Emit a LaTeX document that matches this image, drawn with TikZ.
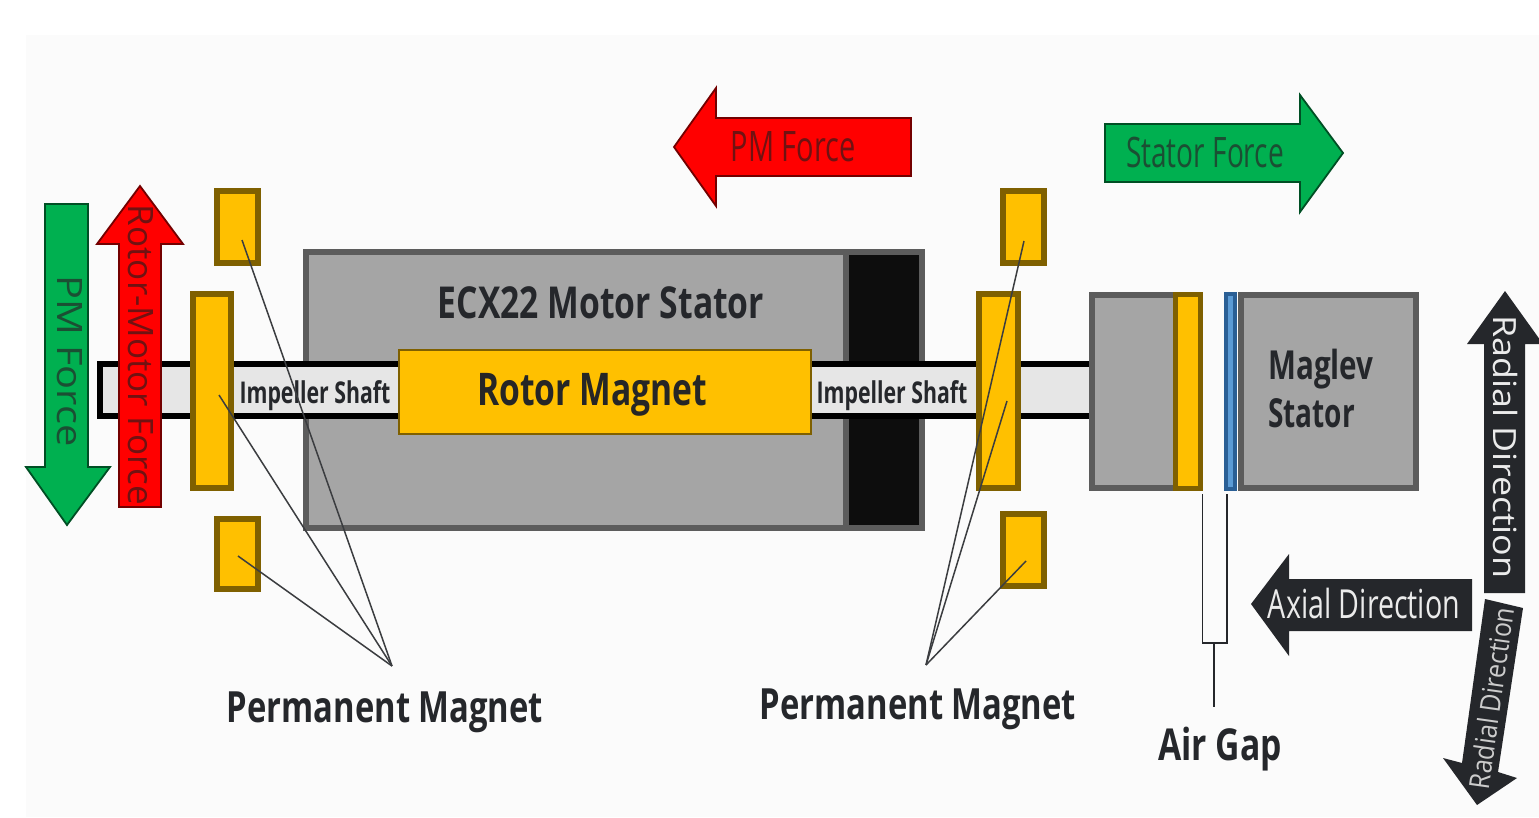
\documentclass[tikz,border=0pt]{standalone}
\usepackage{fontspec}
\setmainfont{Open Sans}
\usepackage{graphicx}
\definecolor{bgc}{HTML}{FBFBFB}
\definecolor{gry}{HTML}{A5A5A5}
\definecolor{gryd}{HTML}{5C5C5C}
\definecolor{ylw}{HTML}{FFC000}
\definecolor{ylwd}{HTML}{7F6000}
\definecolor{shaftc}{HTML}{E6E6E6}
\definecolor{grn}{HTML}{00B050}
\definecolor{inkc}{HTML}{25272B}
\definecolor{blu}{HTML}{5B9BD5}
\definecolor{blud}{HTML}{2A5F95}
\definecolor{redtxt}{HTML}{701212}
\definecolor{grntxt}{HTML}{1B4F33}
\newcommand{\nar}[3]{\scalebox{#1}[1]{\fontsize{#2}{#2}\selectfont #3}}
\tikzset{
  x=1pt,y=-1pt,
  greybox/.style={draw=gryd,fill=gry,line width=6pt,inner sep=0pt,outer sep=0pt},
  mag/.style={draw=ylwd,fill=ylw,line width=6pt,inner sep=0pt,outer sep=0pt},
  shaftbox/.style={draw=black,fill=shaftc,line width=6pt,inner sep=0pt,outer sep=0pt},
  arrowk/.style={draw=#1!45!black,line width=1.8pt,line join=miter},
  lead/.style={draw=inkc!90!white,line width=1.5pt},
  gap/.style={draw=inkc,line width=1.6pt},
  lab/.style={text=inkc,inner sep=0pt,font=\bfseries},
  plain/.style={text=#1,inner sep=0pt},
}
\begin{document}
\begin{tikzpicture}
\useasboundingbox (0,0) rectangle (1539,817);
\fill[white] (0,0) rectangle (1539,817);
\fill[bgc] (26,35) rectangle (1539,817);

% motor stator
\node (stator) [greybox,minimum width=616pt,minimum height=276pt] at (614,390) {};
\node (rear) [draw=gryd,fill=black!95,line width=6pt,inner sep=0pt,minimum width=76pt,minimum height=276pt] at (884,390) {};
% shaft
\node (shaft) [shaftbox,minimum width=992pt,minimum height=52pt] at (596,390) {};
% maglev blocks
\node (mgL) [greybox,minimum width=106pt,minimum height=193pt] at (1145,391) {};
\node (mgLy) [mag,line width=5pt,minimum width=25pt,minimum height=194pt] at (1188,391) {};
\node (mgR) [greybox,minimum width=175pt,minimum height=193pt] at (1328,391) {};
\node (blade) [draw=blud,fill=blu,line width=4pt,inner sep=0pt,minimum width=9pt,minimum height=195pt] at (1230.5,391) {};
% rotor
\node (rotor) [draw=ylwd,fill=ylw,line width=1.5pt,inner sep=0pt,minimum width=412pt,minimum height=84pt] at (605,392) {};
% magnets
\node (m1) [mag,minimum width=41pt,minimum height=72pt] at (237,227) {};
\node (m2) [mag,minimum width=38pt,minimum height=194pt] at (212,391) {};
\node (m3) [mag,minimum width=41pt,minimum height=70pt] at (237,554) {};
\node (m4) [mag,minimum width=41pt,minimum height=72pt] at (1023.5,227) {};
\node (m5) [mag,minimum width=39pt,minimum height=194pt] at (998.5,391) {};
\node (m6) [mag,minimum width=41pt,minimum height=72pt] at (1023.5,550) {};

% force arrows
\draw[arrowk=grn,fill=grn] (45,204) -- (88,204) -- (88,467) -- (110,467) -- (67,525) -- (26,467) -- (45,467) -- cycle;
\draw[arrowk=red,fill=red] (119,507) -- (119,244) -- (97,244) -- (140,186) -- (183,244) -- (161,244) -- (161,507) -- cycle;
\draw[arrowk=red,fill=red] (911,118) -- (716,118) -- (716,88) -- (674,147) -- (716,206) -- (716,176) -- (911,176) -- cycle;
\draw[arrowk=grn,fill=grn] (1105,124) -- (1300,124) -- (1300,95) -- (1343,153) -- (1300,212) -- (1300,182) -- (1105,182) -- cycle;
% direction arrows
\fill[inkc] (1484,593) -- (1484,344) -- (1467,344) -- (1505,291) -- (1543,344) -- (1525,344) -- (1525,593) -- cycle;
\fill[inkc] (1472,579) -- (1289,579) -- (1289,554) -- (1251,604) -- (1289,656) -- (1289,631) -- (1472,631) -- cycle;
\fill[inkc] (1485,599) -- (1523,608) -- (1498,772) -- (1517,778) -- (1477,805) -- (1443,758) -- (1462,763) -- cycle;

% labels
\node (tstator) [lab] at (601,303) {\nar{.765}{44}{ECX22 Motor Stator}};
\node (trotor) [lab,text=black!85] at (592,395) {\nar{.747}{45}{Rotor Magnet}};
\node (timp1) [lab] at (315,396) {\nar{.71}{30}{Impeller Shaft}};
\node (timp2) [lab] at (892,396) {\nar{.71}{30}{Impeller Shaft}};
\node (tmag1) [lab,anchor=base west] at (1268,379) {\nar{.74}{40}{Maglev}};
\node (tmag2) [lab,anchor=base west] at (1268,427) {\nar{.70}{40}{Stator}};
\node (tpm1) [lab] at (385,712) {\nar{.762}{43}{Permanent Magnet}};
\node (tpm2) [lab] at (918,709) {\nar{.762}{43}{Permanent Magnet}};
\node (tgap) [lab] at (1220,749) {\nar{.766}{44}{Air Gap}};
\node (tpmf) [plain=redtxt] at (793,147) {\nar{.69}{42}{PM Force}};
\node (tsf) [plain=grntxt] at (1205,152) {\nar{.668}{42}{Stator Force}};
\node (tpmv) [plain=grntxt,rotate=-90] at (70,361) {\nar{1.136}{35}{PM Force}};
\node (trmf) [plain=redtxt,rotate=-90] at (141,355) {\nar{1}{35}{Rotor-Motor Force}};
\node (trad) [plain=white!92!black,rotate=-90] at (1505,447) {\nar{1.12}{32}{Radial Direction}};
\node (tax) [plain=white!92!black] at (1364,603) {\nar{.716}{40}{Axial Direction}};
\node (trad2) [plain=white!80!black,rotate=82] at (1491,698) {\nar{.89}{28}{Radial Direction}};

% leaders
\coordinate (pl) at (392,666);
\coordinate (pr) at (926,665);
\coordinate (l1) at (242,240);
\coordinate (l2) at (219,395);
\coordinate (l3) at (238,556);
\coordinate (l4) at (1024,241);
\coordinate (l5) at (1007,401);
\coordinate (l6) at (1026,561);
\draw[lead] (l1) -- (pl);
\draw[lead] (l2) -- (pl);
\draw[lead] (l3) -- (pl);
\draw[lead] (l4) -- (pr);
\draw[lead] (l5) -- (pr);
\draw[lead] (l6) -- (pr);
% air gap bracket
\coordinate (g1) at (1202.5,494);
\coordinate (g2) at (1227,494);
\coordinate (g3) at (1202.5,643);
\coordinate (g4) at (1227,643);
\coordinate (g5) at (1214,643);
\coordinate (g6) at (1214,707);
\draw[gap] (g1) -- (g3) -- (g4) -- (g2);
\draw[gap] (g5) -- (g6);
\end{tikzpicture}
\end{document}
